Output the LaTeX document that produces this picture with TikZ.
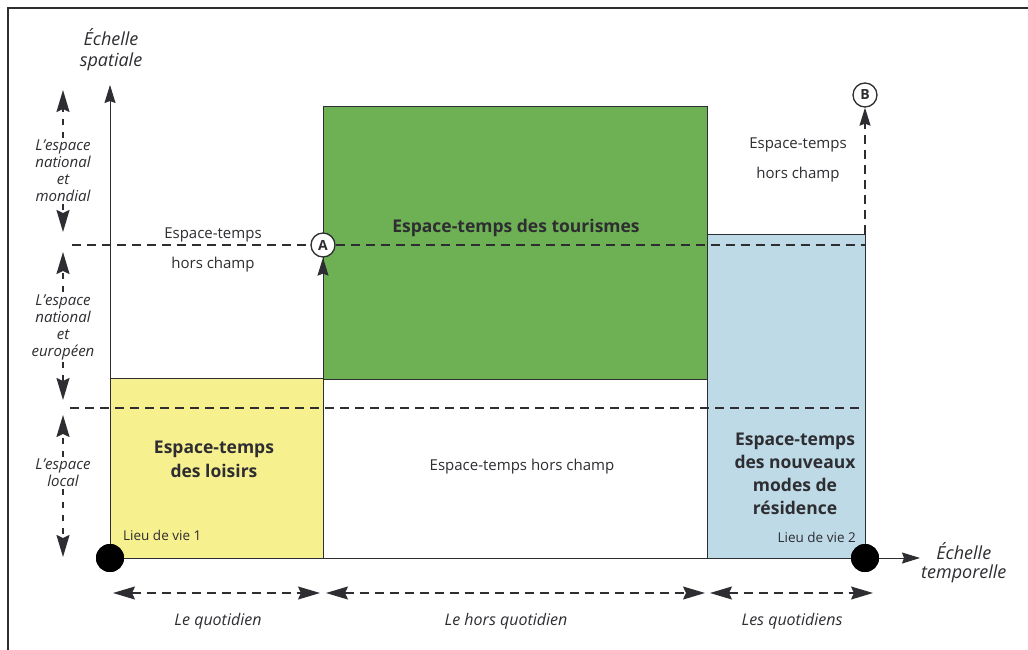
\documentclass[tikz,border=0pt]{standalone}
\usepackage{fontspec}
\setmainfont{Open Sans}
\usetikzlibrary{arrows.meta}
\definecolor{cyellow}{RGB}{247,240,142}
\definecolor{cgreen}{RGB}{110,176,84}
\definecolor{cblue}{RGB}{190,218,230}
\definecolor{cline}{RGB}{45,45,50}
\tikzset{
  tipend/.style={-{Stealth[length=22pt,width=13pt,inset=3pt]}},
  dtipend/.style={{Stealth[length=22pt,width=13pt,inset=3pt]}-{Stealth[length=22pt,width=13pt,inset=3pt]}},
  smalltip/.style={-{Stealth[length=18pt,width=11pt,inset=2pt]}},
  dashln/.style={dash pattern=on 9pt off 6pt, line width=1.3pt, cline},
  vdash/.style={dash pattern=on 6pt off 7pt, line width=1.6pt, cline},
  solidln/.style={line width=1pt, cline},
  txt/.style={font=\fontsize{15}{19}\selectfont, text=cline, align=center, inner sep=1pt},
  btxt/.style={font=\fontsize{17.5}{23}\selectfont\bfseries, text=cline, align=center, inner sep=1pt},
  itxt/.style={font=\fontsize{15}{17}\selectfont\itshape, text=cline, align=center, inner sep=2pt},
  qtxt/.style={font=\fontsize{16}{19}\selectfont\itshape, text=cline, align=center, inner sep=2pt},
  stxt/.style={font=\fontsize{13.5}{15}\selectfont, text=cline, inner sep=1pt},
  dot/.style={circle, fill=black, minimum size=28pt, inner sep=0pt},
  lettre/.style={circle, draw=cline, line width=1.3pt, fill=white, minimum size=24pt, inner sep=0pt, font=\fontsize{14}{14}\selectfont\bfseries, text=cline},
}
\begin{document}
\begin{tikzpicture}[x=1pt,y=-1pt]
\useasboundingbox (0,0) rectangle (1028,650);
\fill[white] (0,0) rectangle (1028,650);
% frame
\draw[line width=1.2pt, cline] (8,650) -- (8,8) -- (1028,8);
% fills
\fill[cyellow] (110,378) rectangle (323,558);
\fill[cgreen] (323,107) rectangle (707,379);
\fill[cblue] (707,234) rectangle (865,558);
% rectangle borders
\draw[solidln] (110,378) -- (323,378);
\draw[solidln] (323,107) rectangle (707,379);
\draw[solidln] (707,234) rectangle (865,558);
\draw[solidln] (323,379) -- (323,558);
% circles A and B
\node[lettre] (A) at (323,245) {A};
\node[lettre] (B) at (865,95) {B};
% dashed horizontal lines
\coordinate (hA0) at (72,245);
\coordinate (hA1) at (865,245);
\coordinate (hB0) at (70,408);
\coordinate (hB1) at (865,408);
\draw[dashln] (hA0) -- (A.west);
\draw[dashln] (A.east) -- (hA1);
\draw[dashln] (hB0) -- (hB1);
% arrow to A
\coordinate (Abase) at (323,379);
\draw[solidln, smalltip] (Abase) -- (A.south);
% dashed arrow to B
\coordinate (Bbase) at (865,234);
\draw[dashln, smalltip] (Bbase) -- (B.south);
% axes
\node[dot] (d1) at (110,558) {};
\node[dot] (d2) at (865,558) {};
\coordinate (ytop) at (110,85);
\coordinate (xend) at (920,558);
\draw[solidln, smalltip] (d1.center) -- (ytop);
\draw[solidln] (d1.center) -- (d2.center);
\draw[solidln, smalltip] (d2.east) -- (xend);
\node[dot] at (d1) {};
\node[dot] at (d2) {};
% axis labels
\node[itxt, font=\fontsize{18}{21}\selectfont\itshape] (ys) at (111,50) {Échelle\\spatiale};
\node[itxt, font=\fontsize{18}{19}\selectfont\itshape, anchor=west] (xs) at (919,563) {Échelle\\temporelle};
% left scale
\node[itxt] (l1) at (63,171) {L'espace\\national\\et\\mondial};
\node[itxt] (l2) at (63,327) {L'espace\\national\\et\\européen};
\node[itxt] (l3) at (63,473) {L'espace\\local};
\coordinate (l1t) at (63,90);
\coordinate (l1b) at (63,232);
\coordinate (l2t) at (63,252);
\coordinate (l2b) at (63,400);
\coordinate (l3t) at (63,415);
\coordinate (l3b) at (63,557);
\draw[vdash, tipend] (l1.north) -- (l1t);
\draw[vdash, tipend] (l1.south) -- (l1b);
\draw[vdash, tipend] (l2.north) -- (l2t);
\draw[vdash, tipend] (l2.south) -- (l2b);
\draw[vdash, tipend] (l3.north) -- (l3t);
\draw[vdash, tipend] (l3.south) -- (l3b);
% bottom scale
\coordinate (b1a) at (113,593);
\coordinate (b1b) at (320,593);
\coordinate (b2a) at (326,593);
\coordinate (b2b) at (705,593);
\coordinate (b3a) at (710,593);
\coordinate (b3b) at (873,593);
\draw[dashln, dtipend] (b1a) -- (b1b);
\draw[dashln, dtipend] (b2a) -- (b2b);
\draw[dashln, dtipend] (b3a) -- (b3b);
\node[qtxt] (q1) at (218,621) {Le quotidien};
\node[qtxt] (q2) at (506,621) {Le hors quotidien};
\node[qtxt] (q3) at (792,621) {Les quotidiens};
% region labels
\node[txt, font=\fontsize{15}{30}\selectfont] (h1) at (213,250) {Espace-temps\\hors champ};
\node[txt, font=\fontsize{15}{30}\selectfont] (h3) at (798,160) {Espace-temps\\hors champ};
\node[txt] (h2) at (522,467) {Espace-temps hors champ};
\node[btxt] (tour) at (516,228) {Espace-temps des tourismes};
\node[btxt, font=\fontsize{17.5}{24}\selectfont\bfseries] (lois) at (214,459) {Espace-temps\\des loisirs};
\node[btxt] (resid) at (795,474) {Espace-temps\\des nouveaux\\modes de\\résidence};
\node[stxt, anchor=west] (lv1) at (122,535) {Lieu de vie 1};
\node[stxt, anchor=east] (lv2) at (857,537) {Lieu de vie 2};
\end{tikzpicture}
\end{document}
